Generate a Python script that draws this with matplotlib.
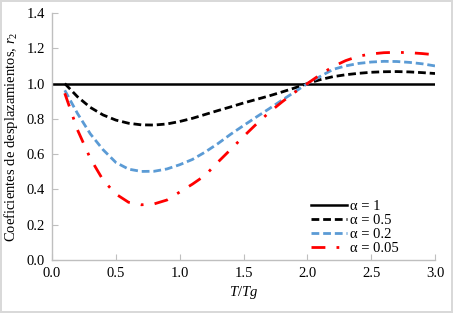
import numpy as np
import matplotlib
matplotlib.use("Agg")
import matplotlib.pyplot as plt

# ---- data ----
T_TG = [0.1, 0.2, 0.3, 0.4, 0.5, 0.6, 0.7, 0.8, 0.9, 1.0,
        1.1, 1.2, 1.3, 1.4, 1.5, 1.6, 1.7, 1.8, 1.9, 2.0,
        2.1, 2.2, 2.3, 2.4, 2.5, 2.6, 2.7, 2.8, 2.9, 3.0]

R_A1_X = [0.0, 3.0]
R_A1 = [1.0, 1.0]

R_A05 = [1.0, 0.925, 0.865, 0.822, 0.793, 0.775, 0.766, 0.765, 0.771, 0.785,
         0.803, 0.825, 0.847, 0.868, 0.89, 0.91, 0.93, 0.952, 0.975, 1.0,
         1.022, 1.039, 1.05, 1.058, 1.064, 1.067, 1.068, 1.066, 1.062, 1.057]

R_A02 = [0.962, 0.83, 0.715, 0.625, 0.553, 0.515, 0.502, 0.503, 0.516, 0.54,
         0.57, 0.612, 0.66, 0.713, 0.762, 0.81, 0.857, 0.905, 0.952, 1.0,
         1.04, 1.08, 1.1, 1.114, 1.122, 1.126, 1.125, 1.12, 1.112, 1.1]

R_A005 = [0.945, 0.737, 0.576, 0.453, 0.374, 0.327, 0.313, 0.318, 0.34, 0.385,
          0.43, 0.48, 0.555, 0.627, 0.7, 0.77, 0.836, 0.895, 0.95, 1.0,
          1.05, 1.096, 1.13, 1.155, 1.168, 1.175, 1.177, 1.175, 1.17, 1.163]

LABELS = ["α = 1", "α = 0.5", "α = 0.2", "α = 0.05"]
X_TICKS = [0.0, 0.5, 1.0, 1.5, 2.0, 2.5, 3.0]
Y_TICKS = [0.0, 0.2, 0.4, 0.6, 0.8, 1.0, 1.2, 1.4]

plt.rcParams["font.family"] = ["Liberation Serif", "DejaVu Serif"]
plt.rcParams["mathtext.fontset"] = "custom"
plt.rcParams["mathtext.it"] = "Liberation Serif:italic"
plt.rcParams["mathtext.rm"] = "Liberation Serif"

fig = plt.figure(figsize=(4.53, 3.13), dpi=100)
fig.patch.set_edgecolor("#D9D9D9")
fig.patch.set_linewidth(1.5)
ax = fig.add_axes([0.1148, 0.1693, 0.8455, 0.7892])

ax.plot(R_A1_X, R_A1, color="black", lw=1.8, label=LABELS[0])
ax.plot(T_TG, R_A05, color="black", lw=2.0, dashes=(2.8, 1.4), label=LABELS[1])
ax.plot(T_TG, R_A02, color="#5B9BD5", lw=2.0, dashes=(2.8, 1.4), label=LABELS[2])
ax.plot(T_TG, R_A005, color="#FF0000", lw=2.0, dashes=(5, 4, 1, 4), label=LABELS[3])

ax.set_xlim(0, 3.0)
ax.set_ylim(0, 1.4)
ax.set_xticks(X_TICKS)
ax.set_yticks(Y_TICKS)
ax.set_xticklabels([f"{v:.1f}" for v in X_TICKS])
ax.set_yticklabels([f"{v:.1f}" for v in Y_TICKS])
ax.tick_params(direction="in", length=4, color="#BFBFBF", labelsize=10.5, pad=5)

for side in ["top", "right"]:
    ax.spines[side].set_visible(False)
for side in ["left", "bottom"]:
    ax.spines[side].set_color("#BFBFBF")
    ax.spines[side].set_linewidth(1.0)

ax.set_xlabel("$T/Tg$", fontsize=10.5, labelpad=3)
ax.set_ylabel("Coeficientes de desplazamientos, $r_2$", fontsize=10.5, labelpad=5)

ax.legend(loc="upper left", bbox_to_anchor=(0.6865, 0.362), bbox_transform=fig.transFigure,
          frameon=False, fontsize=10.5, handlelength=2.5, handletextpad=0.2,
          labelspacing=0.05, borderpad=0, borderaxespad=0)

fig.savefig("out.png", dpi=100)
